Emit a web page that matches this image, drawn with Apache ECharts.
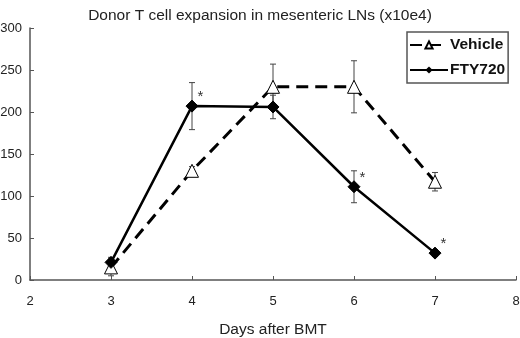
<!DOCTYPE html>
<html>
<head>
<meta charset="utf-8">
<script src="https://cdn.jsdelivr.net/npm/echarts@6/dist/echarts.min.js"></script>
<style>
html,body{margin:0;padding:0;background:#fff;}
#main{width:520px;height:338px;}
</style>
</head>
<body>
<div id="main"></div>
<script>
var days = [3, 4, 5, 6, 7];
var vehicle = [15, 130, 230, 230, 117];
var vehicleErr = [10, 5, 27, 31, 11];
var fty = [21, 207, 206, 111, 32];
var ftyErr = [6, 28, 14, 19, 4];
var ftySig = [0, 1, 0, 1, 1];   // asterisk
var yTicks = [0, 50, 100, 150, 200, 250, 300];

var font = 'Liberation Sans, Arial, sans-serif';

function pairs(vals){
	var out = [];
	for (var i = 0; i < days.length; i++) out.push([days[i], vals[i]]);
	return out;
}
function errData(vals, errs){
	var out = [];
	for (var i = 0; i < days.length; i++) out.push([days[i], vals[i] - errs[i], vals[i] + errs[i]]);
	return out;
}
function errBar(params, api){
	var x = api.value(0);
	var lo = api.coord([x, api.value(1)]);
	var hi = api.coord([x, api.value(2)]);
	var w = 3;
	var st = {stroke: '#444', lineWidth: 1};
	return {
		type: 'group',
		children: [
			{type: 'line', shape: {x1: lo[0], y1: lo[1], x2: hi[0], y2: hi[1]}, style: st},
			{type: 'line', shape: {x1: lo[0] - w, y1: lo[1], x2: lo[0] + w, y2: lo[1]}, style: st},
			{type: 'line', shape: {x1: hi[0] - w, y1: hi[1], x2: hi[0] + w, y2: hi[1]}, style: st}
		]
	};
}

var ftyData = pairs(fty).map(function(p, i){
	if (!ftySig[i]) return p;
	return {value: p, label: {show: true, formatter: '*', position: [12, -10], fontSize: 15, color: '#333', fontFamily: font}};
});

var chart = echarts.init(document.getElementById('main'));
chart.setOption({
	animation: false,
	title: {
		text: 'Donor T cell expansion in mesenteric LNs (x10e4)',
		left: 'center',
		top: 3,
		textStyle: {fontSize: 15.5, fontWeight: 'normal', color: '#222', fontFamily: font}
	},
	grid: {left: 30, right: 4, top: 28, bottom: 58, outerBoundsMode: 'none'},
	legend: {
		left: 407,
		top: 32,
		orient: 'vertical',
		itemGap: 9,
		itemWidth: 38,
		itemHeight: 9,
		padding: [5, 3, 5, 2],
		borderColor: '#555',
		borderWidth: 1.5,
		backgroundColor: '#fff',
		data: ['Vehicle', 'FTY720'],
		textStyle: {fontSize: 15.5, fontWeight: 'bold', color: '#111', fontFamily: font, padding: [0, 0, 0, -3]}
	},
	xAxis: {
		type: 'value',
		min: 2, max: 8, interval: 1,
		name: 'Days after BMT',
		nameLocation: 'middle',
		nameGap: 42,
		nameTextStyle: {fontSize: 15.5, color: '#222', fontFamily: font},
		axisLine: {lineStyle: {color: '#555', width: 1.5}},
		axisTick: {inside: true, length: 4, lineStyle: {color: '#555'}},
		axisLabel: {fontSize: 13, color: '#222', margin: 15, fontFamily: font},
		splitLine: {show: false}
	},
	yAxis: {
		type: 'value',
		min: yTicks[0], max: yTicks[yTicks.length - 1], interval: 50,
		axisLine: {show: true, lineStyle: {color: '#555', width: 1.5}},
		axisTick: {show: true, inside: true, length: 4, lineStyle: {color: '#555'}},
		axisLabel: {fontSize: 13, color: '#222', margin: 8, fontFamily: font},
		splitLine: {show: false}
	},
	series: [
		{
			type: 'custom', name: 'vehErr', renderItem: errBar,
			data: errData(vehicle, vehicleErr), z: 1, silent: true
		},
		{
			type: 'custom', name: 'ftyErr', renderItem: errBar,
			data: errData(fty, ftyErr), z: 1, silent: true
		},
		{
			type: 'line', name: 'Vehicle',
			data: pairs(vehicle),
			symbol: 'triangle', symbolSize: 13,
			lineStyle: {color: '#000', width: 3, type: [12, 7]},
			itemStyle: {color: '#fff', borderColor: '#000', borderWidth: 1},
			z: 3
		},
		{
			type: 'line', name: 'FTY720',
			data: ftyData,
			symbol: 'diamond', symbolSize: 12,
			lineStyle: {color: '#000', width: 2.5},
			itemStyle: {color: '#000', borderColor: '#000'},
			z: 4
		}
	]
});
</script>
</body>
</html>
